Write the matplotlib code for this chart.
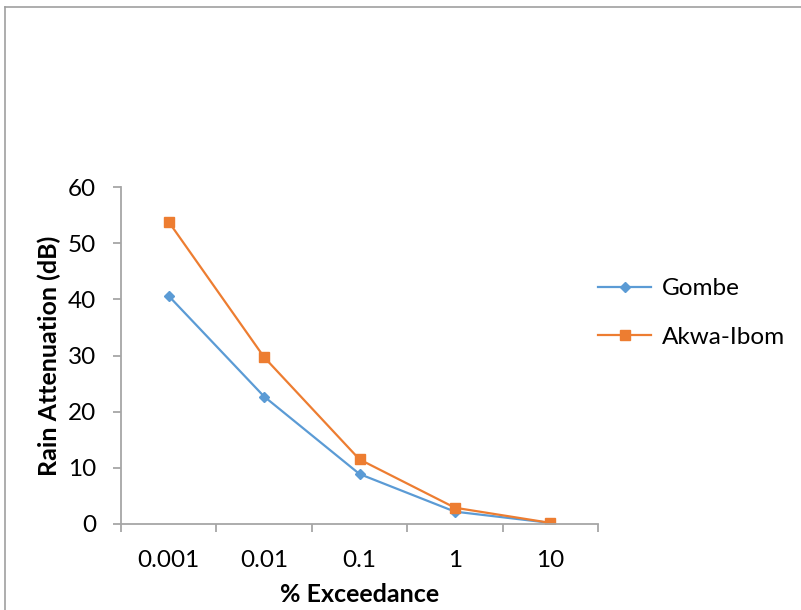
import matplotlib
matplotlib.use("Agg")
import matplotlib.pyplot as plt
from matplotlib.lines import Line2D

categories = ["0.001", "0.01", "0.1", "1", "10"]
gombe = [40.6, 22.7, 8.9, 2.2, 0.2]
akwa_ibom = [53.8, 29.7, 11.5, 2.9, 0.2]
series_names = ["Gombe", "Akwa-Ibom"]
y_ticks = [0, 10, 20, 30, 40, 50, 60]

plt.rcParams['font.family'] = ['Lato', 'DejaVu Sans']

W, H = 801, 610
fig = plt.figure(figsize=(W / 100, H / 100), dpi=100)
ax = fig.add_axes([121 / W, 86 / H, (598 - 121) / W, (524 - 187) / H])

axis_col = "#A6A6A6"
blue = "#5B9BD5"
orange = "#ED7D31"
fs = 17.5

x = list(range(len(categories)))
ax.plot(x, gombe, color=blue, lw=1.6, marker="D", ms=5.5, label=series_names[0])
ax.plot(x, akwa_ibom, color=orange, lw=1.6, marker="s", ms=7.5, label=series_names[1])

ax.set_xlim(-0.5, len(categories) - 0.5)
ax.set_ylim(0, 60)
ax.set_yticks(y_ticks)
ax.set_yticklabels([str(v) for v in y_ticks], fontsize=fs)

ax.set_xticks(x)
ax.set_xticklabels(categories, fontsize=fs)
ax.tick_params(axis="x", which="major", length=0, pad=19)
ax.set_xticks([i - 0.5 for i in range(len(categories) + 1)], minor=True)
ax.tick_params(axis="x", which="minor", length=6, color=axis_col, width=1.3, direction="out")
ax.tick_params(axis="y", length=6, color=axis_col, width=1.3, direction="out", pad=12)

for s in ["top", "right"]:
    ax.spines[s].set_visible(False)
for s in ["left", "bottom"]:
    ax.spines[s].set_color(axis_col)
    ax.spines[s].set_linewidth(1.3)

ax.set_ylabel("Rain Attenuation (dB)", fontsize=18, fontweight="bold", labelpad=5)
ax.set_xlabel("% Exceedance", fontsize=18, fontweight="bold", labelpad=8)

handles, labels = ax.get_legend_handles_labels()
fig.legend(handles, labels, loc="center left", bbox_to_anchor=(576 / W, 1 - 313 / H),
           frameon=False, fontsize=fs, handlelength=2.2, labelspacing=1.15, handletextpad=0.45)

# outer chart border (cropped)
fig.add_artist(Line2D([5 / W, 1], [1 - 7 / H, 1 - 7 / H], transform=fig.transFigure, color="#A0A0A0", lw=1.2))
fig.add_artist(Line2D([5 / W, 5 / W], [0, 1 - 7 / H], transform=fig.transFigure, color="#A0A0A0", lw=1.2))

fig.savefig("out.png", dpi=100, facecolor="white")
